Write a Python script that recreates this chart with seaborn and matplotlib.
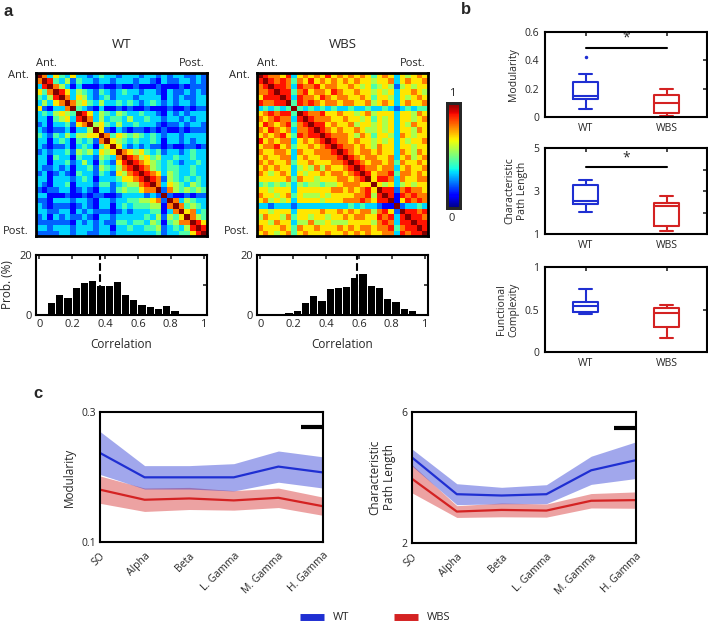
import numpy as np
import matplotlib
matplotlib.use('Agg')
import matplotlib.pyplot as plt
import seaborn as sns
from matplotlib.lines import Line2D

# ---------------- data ----------------
# correlation matrices, upper triangle, one digit per cell (value = digit / 9)
wt_matrix_rows = [
    "97364 36332 34332 33323 32323 32232",
    ".9843 52433 23323 33233 21322 33232",
    "..975 31311 12112 11211 12111 21222",
    "...98 63543 24323 43323 32132 23232",
    "....9 73653 23423 33233 33132 32233",
    "..... 97564 35334 34323 43232 33233",
    "..... .9432 13112 12112 11121 12122",
    "..... ..986 35435 43343 32132 32333",
    "..... ...97 35344 35334 33233 23233",
    "..... ....9 56435 33433 32122 32332",
    "..... ..... 96213 21221 21211 21222",
    "..... ..... .9746 54543 43233 23333",
    "..... ..... ..965 43433 43133 23233",
    "..... ..... ...96 32323 22121 12212",
    "..... ..... ....9 76564 34233 23433",
    "..... ..... ..... 98756 45334 33433",
    "..... ..... ..... .9876 54343 23343",
    "..... ..... ..... ..987 54344 33433",
    "..... ..... ..... ...98 76354 33433",
    "..... ..... ..... ....9 87254 34343",
    "..... ..... ..... ..... 97365 43543",
    "..... ..... ..... ..... .9275 45454",
    "..... ..... ..... ..... ..921 12122",
    "..... ..... ..... ..... ...97 35433",
    "..... ..... ..... ..... ....9 74543",
    "..... ..... ..... ..... ..... 96734",
    "..... ..... ..... ..... ..... .9754",
    "..... ..... ..... ..... ..... ..986",
    "..... ..... ..... ..... ..... ...98",
    "..... ..... ..... ..... ..... ....9",
]
wbs_matrix_rows = [
    "98776 83676 76867 67676 46763 65676",
    ".9878 74768 67676 76766 56673 67667",
    "..988 73877 86776 67656 45652 56566",
    "...98 84786 77687 66766 56563 66765",
    "....9 83877 68767 76676 46653 65676",
    "..... 94878 76776 77667 56763 67667",
    "..... .9434 34343 34334 33432 34344",
    "..... ..987 78667 66567 56663 66576",
    "..... ...98 77766 76656 46563 66567",
    "..... ....9 88676 67566 56563 65766",
    "..... ..... 98767 66765 56563 66576",
    "..... ..... .9877 76576 46653 76566",
    "..... ..... ..987 76766 56563 65667",
    "..... ..... ...98 77676 57663 66566",
    "..... ..... ....9 87677 67663 76576",
    "..... ..... ..... 98767 76673 67567",
    "..... ..... ..... .9876 77674 76676",
    "..... ..... ..... ..987 76773 67667",
    "..... ..... ..... ...98 67784 77676",
    "..... ..... ..... ....9 68873 76677",
    "..... ..... ..... ..... 96563 56566",
    "..... ..... ..... ..... .9882 78776",
    "..... ..... ..... ..... ..981 87877",
    "..... ..... ..... ..... ...91 68787",
    "..... ..... ..... ..... ....9 23343",
    "..... ..... ..... ..... ..... 98878",
    "..... ..... ..... ..... ..... .9887",
    "..... ..... ..... ..... ..... ..988",
    "..... ..... ..... ..... ..... ...98",
    "..... ..... ..... ..... ..... ....9",
]

# correlation histograms (probability %, 0.05 wide bins)
bin_edges = [0, 0.05, 0.1, 0.15, 0.2, 0.25, 0.3, 0.35, 0.4, 0.45, 0.5,
             0.55, 0.6, 0.65, 0.7, 0.75, 0.8, 0.85, 0.9, 0.95, 1.0]
wt_hist = [0.5, 4.1, 6.7, 5.8, 9.1, 10.8, 11.3, 9.7, 9.7, 11.1,
           6.6, 5.0, 3.3, 2.6, 2.1, 3.0, 1.3, 0.3, 0.2, 0.0]
wbs_hist = [0.2, 0.1, 0.3, 0.8, 1.5, 4.1, 6.5, 4.7, 8.7, 8.9,
            9.5, 12.4, 13.7, 9.8, 8.9, 5.5, 4.4, 2.0, 1.2, 0.5]
wt_hist_mean = 0.37
wbs_hist_mean = 0.59

# box plots: [whislo, q1, med, q3, whishi]
groups = ['WT', 'WBS']
mod_wt = [0.054, 0.127, 0.15, 0.25, 0.304]
mod_wt_out = [0.426]
mod_wbs = [0.005, 0.03, 0.10, 0.158, 0.195]
cpl_wt = [2.04, 2.40, 2.52, 3.28, 3.50]
cpl_wbs = [1.15, 1.39, 2.32, 2.43, 2.78]
fc_wt = [0.447, 0.467, 0.54, 0.585, 0.738]
fc_wbs = [0.16, 0.30, 0.455, 0.52, 0.553]

# frequency bands
bands = ['SO', 'Alpha', 'Beta', 'L. Gamma', 'M. Gamma', 'H. Gamma']
mod_wt_mean = [0.237, 0.1995, 0.1995, 0.1995, 0.216, 0.207]
mod_wt_err = [0.033, 0.018, 0.018, 0.021, 0.024, 0.024]
mod_wbs_mean = [0.1805, 0.165, 0.167, 0.164, 0.168, 0.155]
mod_wbs_err = [0.021, 0.018, 0.017, 0.015, 0.015, 0.014]
cpl_wt_mean = [4.61, 3.49, 3.45, 3.49, 4.22, 4.53]
cpl_wt_err = [0.26, 0.32, 0.25, 0.29, 0.43, 0.56]
cpl_wbs_mean = [3.96, 2.96, 3.01, 2.99, 3.29, 3.31]
cpl_wbs_err = [0.43, 0.18, 0.21, 0.20, 0.22, 0.25]

WT_COLOR = '#1f2fd2'
WBS_COLOR = '#d42222'

W, H = 708, 623


def rect(x0, y0, x1, y1):
    """pixel box (left, top, right, bottom) -> figure fraction rect"""
    return [x0 / W, 1 - y1 / H, (x1 - x0) / W, (y1 - y0) / H]


def parse_matrix(rows):
    rows = [r.replace(' ', '') for r in rows]
    n = len(rows)
    m = np.zeros((n, n))
    for i, r in enumerate(rows):
        for j, ch in enumerate(r):
            if ch != '.':
                m[i, j] = int(ch) / 9
                m[j, i] = int(ch) / 9
    return m


def frame(ax, lw=1.5):
    for s in ax.spines.values():
        s.set_visible(True)
        s.set_linewidth(lw)
        s.set_color('black')


sns.set_style('white')
plt.rcParams['font.family'] = ['Open Sans', 'DejaVu Sans']
plt.rcParams['font.size'] = 8

fig = plt.figure(figsize=(W / 100, H / 100), dpi=100)

# ---------------- panel a ----------------
cax = fig.add_axes(rect(447, 103, 460, 208))
mat_boxes = [(36, 73, 207, 236), (257, 73, 428, 236)]
hist_boxes = [(36, 255, 207, 315), (257, 255, 428, 315)]
for k, (name, rows, hist, mean) in enumerate([
        ('WT', wt_matrix_rows, wt_hist, wt_hist_mean),
        ('WBS', wbs_matrix_rows, wbs_hist, wbs_hist_mean)]):
    ax = fig.add_axes(rect(*mat_boxes[k]))
    sns.heatmap(parse_matrix(rows), ax=ax, cmap='jet', vmin=0, vmax=1,
                cbar=(k == 1), cbar_ax=cax if k == 1 else None,
                xticklabels=False, yticklabels=False)
    frame(ax, 2)
    x0, y0, x1, y1 = mat_boxes[k]
    fig.text((x0 + x1) / 2 / W, 1 - 45 / H, name, ha='center', va='center', fontsize=9.5)
    fig.text(x0 / W, 1 - 64 / H, 'Ant.', ha='left', va='center', fontsize=8)
    fig.text((x1 - 2) / W, 1 - 64 / H, 'Post.', ha='right', va='center', fontsize=8)
    fig.text((x0 - 7) / W, 1 - 76 / H, 'Ant.', ha='right', va='center', fontsize=8)
    fig.text((x0 - 7) / W, 1 - 231 / H, 'Post.', ha='right', va='center', fontsize=8)

    hx = fig.add_axes(rect(*hist_boxes[k]))
    centers = [(a + b) / 2 for a, b in zip(bin_edges[:-1], bin_edges[1:])]
    sns.histplot(x=centers, weights=hist, bins=bin_edges, color='black',
                 edgecolor='none', linewidth=0, shrink=0.88, alpha=1, ax=hx)
    hx.axvline(mean, color='black', ls='--', lw=1.5, zorder=0.5)
    hx.set_xlim(-0.02, 1.02)
    hx.set_ylim(0, 20)
    hx.set_xticks([0, 0.2, 0.4, 0.6, 0.8, 1])
    hx.set_xticklabels(['0', '0.2', '0.4', '0.6', '0.8', '1'])
    hx.set_yticks([0, 10, 20])
    hx.set_yticklabels(['0', '', '20'])
    hx.tick_params(direction='in', length=3, width=1.2, top=True, right=True, labelsize=8, pad=3)
    frame(hx)
    hx.set_xlabel('Correlation', fontsize=8.5, labelpad=6)
    hx.set_ylabel('Prob. (%)' if k == 0 else '', fontsize=8.5, labelpad=4)

cb = cax.collections[0].colorbar if cax.collections else None
cax.set_yticks([])
for s in cax.spines.values():
    s.set_visible(True)
    s.set_linewidth(2)
if cb is not None:
    cb.outline.set_linewidth(2)
    cb.set_ticks([])
fig.text(452 / W, 1 - 94 / H, '1', ha='center', va='center', fontsize=8)
fig.text(452 / W, 1 - 219 / H, '0', ha='center', va='center', fontsize=8)

# ---------------- panel b ----------------
box_specs = [
    ((545, 32, 707, 117), mod_wt, mod_wt_out, mod_wbs, 'Modularity', (0, 0.6),
     [0, 0.2, 0.4, 0.6], ['0', '0.2', '0.4', '0.6'], 0.49),
    ((545, 148, 707, 234), cpl_wt, [], cpl_wbs, 'Characteristic\nPath Length', (1, 5),
     [1, 2, 3, 4, 5], ['1', '', '3', '', '5'], 4.1),
    ((545, 267, 707, 352), fc_wt, [], fc_wbs, 'Functional\nComplexity', (0, 1),
     [0, 0.5, 1], ['0', '0.5', '1'], None),
]
for box, wt, wt_out, wbs, label, ylim, yt, ytl, sig in box_specs:
    ax = fig.add_axes(rect(*box))
    stats = []
    for name, s, out in [('WT', wt, wt_out), ('WBS', wbs, [])]:
        stats.append(dict(label=name, whislo=s[0], q1=s[1], med=s[2], q3=s[3],
                          whishi=s[4], fliers=out))
    bp = ax.bxp(stats, positions=[1, 2], widths=0.32, capwidths=0.17, showfliers=True,
                boxprops=dict(lw=1.5), whiskerprops=dict(lw=1.5, ls='-'),
                capprops=dict(lw=1.5), medianprops=dict(lw=1.5),
                flierprops=dict(marker='.', markersize=3))
    for i, c in enumerate([WT_COLOR, WBS_COLOR]):
        bp['boxes'][i].set_color(c)
        bp['medians'][i].set_color(c)
        bp['fliers'][i].set_markerfacecolor(c)
        bp['fliers'][i].set_markeredgecolor(c)
        for j in (2 * i, 2 * i + 1):
            bp['whiskers'][j].set_color(c)
            bp['caps'][j].set_color(c)
    if sig is not None:
        span = ylim[1] - ylim[0]
        ax.plot([1, 2], [sig, sig], color='black', lw=1.5)
        ax.text(1.5, sig + 0.02 * span, '*', ha='center', va='bottom', fontsize=10)
    ax.set_xlim(0.5, 2.5)
    ax.set_ylim(*ylim)
    ax.set_yticks(yt)
    ax.set_yticklabels(ytl)
    ax.set_xticks([1, 2])
    ax.set_xticklabels(groups)
    ax.tick_params(direction='in', length=3, width=1.2, top=True, right=True, labelsize=7.5, pad=4)
    ax.set_ylabel(label, fontsize=7.5, labelpad=4)
    frame(ax)

# ---------------- panel c ----------------
line_specs = [
    ((100, 412, 323, 542), mod_wt_mean, mod_wt_err, mod_wbs_mean, mod_wbs_err,
     'Modularity', (0.1, 0.3), 0.277),
    ((412, 412, 636, 543), cpl_wt_mean, cpl_wt_err, cpl_wbs_mean, cpl_wbs_err,
     'Characteristic\nPath Length', (2, 6), 5.52),
]
xpos = list(range(len(bands)))
for box, wm, we, bm, be, label, ylim, sig in line_specs:
    ax = fig.add_axes(rect(*box))
    for mean, err, c in [(bm, be, WBS_COLOR), (wm, we, WT_COLOR)]:
        lo = [m - e for m, e in zip(mean, err)]
        hi = [m + e for m, e in zip(mean, err)]
        ax.fill_between(xpos, lo, hi, color=c, alpha=0.42, lw=0)
        sns.lineplot(x=xpos, y=mean, color=c, lw=1.6, ax=ax)
    ax.plot([4.5, 5], [sig, sig], color='black', lw=3, solid_capstyle='butt')
    ax.set_xlim(0, 5)
    ax.set_ylim(*ylim)
    ax.set_yticks(list(ylim))
    ax.set_yticklabels([f'{v:g}' for v in ylim])
    ax.set_xticks(xpos)
    ax.set_xticklabels(bands, rotation=45, ha='right', rotation_mode='anchor')
    ax.tick_params(direction='in', length=4, width=1.5, labelsize=7.5, pad=6)
    ax.tick_params(axis='y', length=0, pad=3)
    ax.set_ylabel(label, fontsize=8.5, labelpad=4)
    frame(ax)

handles = [Line2D([0], [0], color=WT_COLOR, lw=5, solid_capstyle='butt', label='WT'),
           Line2D([0], [0], color=WBS_COLOR, lw=5, solid_capstyle='butt', label='WBS')]
fig.legend(handles=handles, loc='center', bbox_to_anchor=(375 / W, 1 - 618 / H), ncol=2,
           frameon=False, handlelength=2.2, columnspacing=4, fontsize=8)

# panel letters
for t, x, y in [('a', 8, 12), ('b', 466, 10), ('c', 38, 393)]:
    fig.text(x / W, 1 - y / H, t, ha='center', va='center', fontsize=12,
             fontweight='bold', family=['Liberation Sans', 'DejaVu Sans'])

fig.savefig('out.png', dpi=100)
